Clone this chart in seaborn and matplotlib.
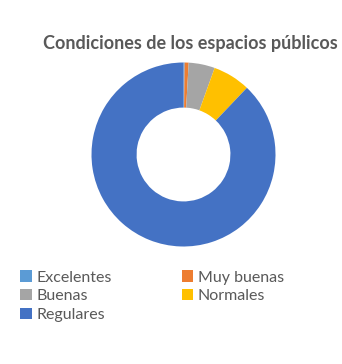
import matplotlib
matplotlib.use("Agg")
import matplotlib.pyplot as plt
import seaborn as sns
from matplotlib.patches import Patch

# Data (share of answers, %)
categories = ["Excelentes", "Muy buenas", "Buenas", "Normales", "Regulares"]
values = [0.2, 0.7, 4.6, 6.6, 87.9]
colors = ["#5B9BD5", "#ED7D31", "#A5A5A5", "#FFC000", "#4472C4"]
title = "Condiciones de los espacios públicos"

sns.set_theme(style="white")
plt.rcParams['font.family'] = ['Lato', 'DejaVu Sans']

fig = plt.figure(figsize=(3.42, 3.64), dpi=100)
fig.patch.set_facecolor("white")

# donut axes, placed in pixels of the 342x364 canvas
cx, cy, r = 183.5, 154.5, 92
ax = fig.add_axes([(cx - r) / 342, (364 - cy - r) / 364, 2 * r / 342, 2 * r / 364])
ax.pie(values, colors=colors, startangle=90, counterclock=False, radius=1,
       wedgeprops=dict(width=0.49, linewidth=0))
ax.set_xlim(-1, 1)
ax.set_ylim(-1, 1)
ax.set_aspect("equal")
ax.axis("off")

fig.text(190 / 342, 1 - 43 / 364, title, ha="center", va="center",
         fontsize=13, fontweight="bold", color="#595959")

# legend: column 1 = Excelentes, Buenas, Regulares; column 2 = Muy buenas, Normales
order = [0, 2, 4, 1, 3]
handles = [Patch(facecolor=colors[i], edgecolor="none", label=categories[i]) for i in order]
fig.legend(handles=handles, ncol=2, loc="upper left",
           bbox_to_anchor=(14 / 342, 1 - 264 / 364), frameon=False,
           fontsize=11.5, labelcolor="#595959", handlelength=0.7, handleheight=0.7,
           handletextpad=0.3, columnspacing=4.4, labelspacing=0.28, borderaxespad=0)

plt.savefig("out.png", dpi=100)
plt.close()
